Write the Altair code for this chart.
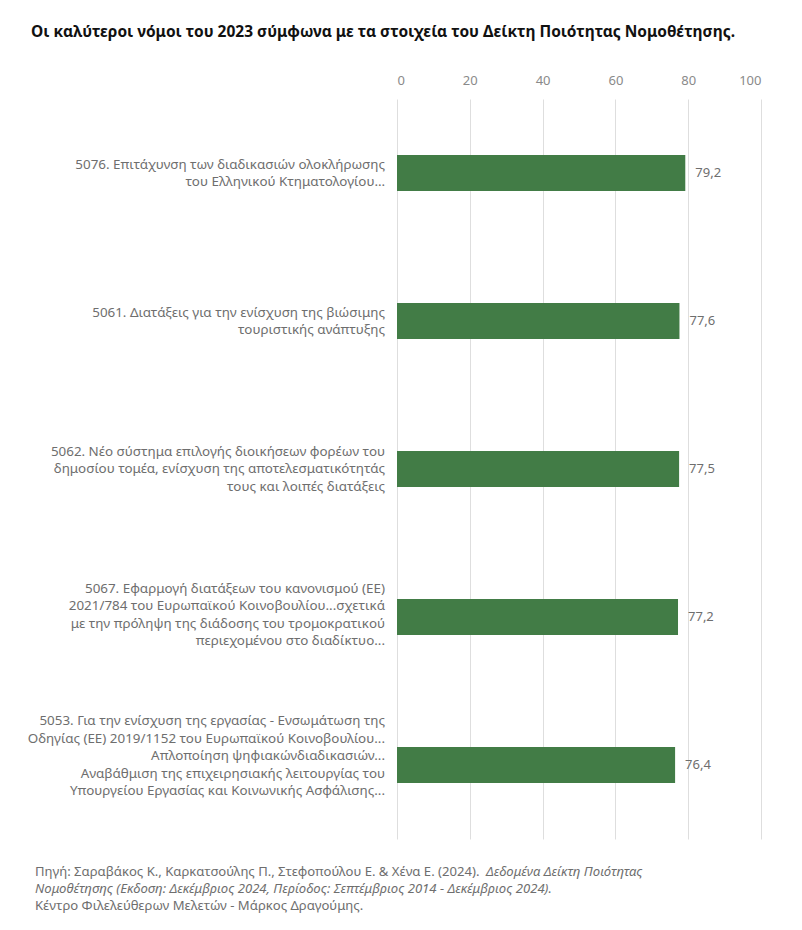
import altair as alt
import pandas as pd

laws = [
    "5076. Επιτάχυνση των διαδικασιών ολοκλήρωσης\nτου Ελληνικού Κτηματολογίου…",
    "5061. Διατάξεις για την ενίσχυση της βιώσιμης\nτουριστικής ανάπτυξης",
    "5062. Νέο σύστημα επιλογής διοικήσεων φορέων του\nδημοσίου τομέα, ενίσχυση της αποτελεσματικότητάς\nτους και λοιπές διατάξεις",
    "5067. Εφαρμογή διατάξεων του κανονισμού (ΕΕ)\n2021/784 του Ευρωπαϊκού Κοινοβουλίου...σχετικά\nμε την πρόληψη της διάδοσης του τρομοκρατικού\nπεριεχομένου στο διαδίκτυο...",
    "5053. Για την ενίσχυση της εργασίας - Ενσωμάτωση της\nΟδηγίας (ΕΕ) 2019/1152 του Ευρωπαϊκού Κοινοβουλίου...\nΑπλοποίηση ψηφιακώνδιαδικασιών...\nΑναβάθμιση της επιχειρησιακής λειτουργίας του \nΥπουργείου Εργασίας και Κοινωνικής Ασφάλισης...",
]
scores = [79.2, 77.6, 77.5, 77.2, 76.4]
x_ticks = [0, 20, 40, 60, 80, 100]

title_text = "Οι καλύτεροι νόμοι του 2023 σύμφωνα με τα στοιχεία του Δείκτη Ποιότητας Νομοθέτησης."
src_line1_normal = "Πηγή: Σαραβάκος Κ., Καρκατσούλης Π., Στεφοπούλου Ε. & Χένα Ε. (2024)."
src_line1_italic = "Δεδομένα Δείκτη Ποιότητας"
src_line2_italic = "Νομοθέτησης (Εκδοση: Δεκέμβριος 2024, Περίοδος: Σεπτέμβριος 2014 - Δεκέμβριος 2024)."
src_line3_normal = "Κέντρο Φιλελεύθερων Μελετών - Μάρκος Δραγούμης."

df = pd.DataFrame({"law": laws, "score": scores})
df["nlines"] = df["law"].str.count("\n") + 1

W, H = 364, 740
FONT = "Noto Sans"
GREY = "#6e6e6e"
LH = 17.5
EXTRA_SHIFT = {2: 0.5, 3: 0, 4: -2, 5: -9}

y_enc = alt.Y(
    "law:N",
    sort=None,
    title=None,
    scale=alt.Scale(paddingInner=0, paddingOuter=0),
    axis=None,
)

x_enc = alt.X(
    "score:Q",
    title=None,
    scale=alt.Scale(domain=[0, 100], nice=False),
    axis=alt.Axis(
        orient="top",
        values=x_ticks,
        labelFont=FONT,
        labelFontSize=13,
        labelColor="#8a8a8a",
        labelPadding=12,
        ticks=False,
        domain=False,
        grid=True,
        gridColor="#dedede",
        gridWidth=1,
    ),
)

bars = alt.Chart(df).mark_bar(color="#427c46", size=36).encode(x=x_enc, y=y_enc)

values = (
    alt.Chart(df)
    .transform_calculate(lbl="replace(format(datum.score, '.1f'), '.', ',')")
    .mark_text(align="left", baseline="middle", dx=10, font=FONT, fontSize=13, color=GREY)
    .encode(x="score:Q", y=alt.Y("law:N", sort=None), text="lbl:N")
)

label_layers = []
for n in sorted(df["nlines"].unique()):
    n = int(n)
    label_layers.append(
        alt.Chart(df)
        .transform_filter(alt.datum.nlines == n)
        .mark_text(
            align="right",
            baseline="middle",
            lineBreak="\n",
            lineHeight=LH,
            dy=-(n - 1) * LH / 2 + EXTRA_SHIFT.get(n, 0),
            font=FONT,
            fontSize=13.4,
            color=GREY,
        )
        .encode(x=alt.value(-12), y=alt.Y("law:N", sort=None), text="law:N")
    )


def note(text, x, y, **kw):
    return alt.Chart(pd.DataFrame({"t": [text]})).mark_text(
        align="left", baseline="middle", font=FONT, **kw
    ).encode(x=alt.value(x), y=alt.value(y), text="t:N")


title = note(title_text, -366, -67, fontSize=15.5, fontWeight="bold", color="#111111")
s1 = note(src_line1_normal, -362, 773, fontSize=13.1, color=GREY)
s1i = note(src_line1_italic, 89, 773, fontSize=13.1, fontStyle="italic", color=GREY)
s2 = note(src_line2_italic, -362, 790, fontSize=13.1, fontStyle="italic", color=GREY)
s3 = note(src_line3_normal, -362, 807, fontSize=13.1, color=GREY)

chart = (
    alt.layer(bars, values, *label_layers, title, s1, s1i, s2, s3)
    .properties(
        width=W,
        height=H,
        autosize=alt.AutoSizeParams(type="none"),
        padding={"left": 389, "top": 91, "right": 30, "bottom": 80},
    )
    .configure_view(stroke=None)
)

chart.save("out.html", embed_options={"renderer": "svg", "actions": False})
